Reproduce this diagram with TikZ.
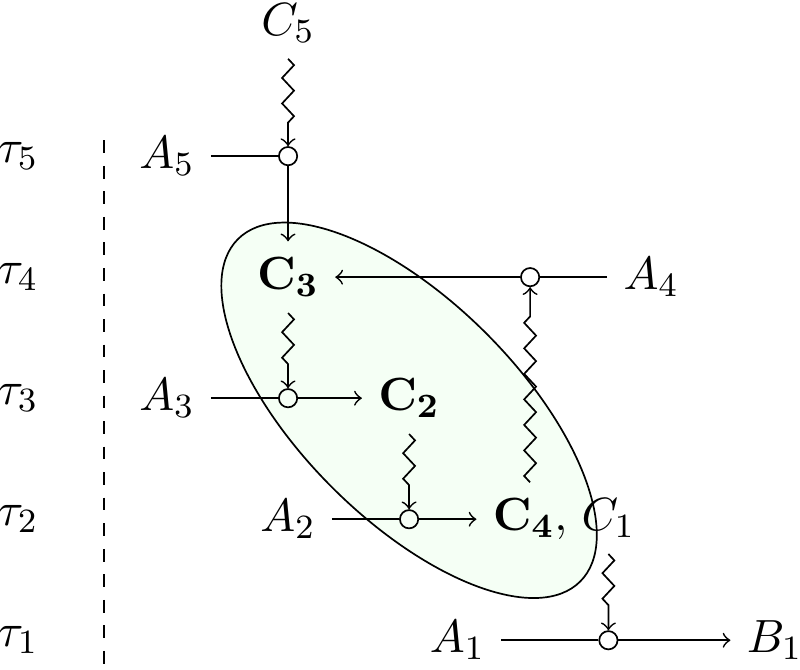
\documentclass[tikz,border=0pt,11pt]{standalone}
\usepackage{amsmath, amssymb}
\usetikzlibrary{decorations.pathmorphing}

\begin{document}
\begin{tikzpicture}[dot/.style={circle, draw, inner sep=0pt, minimum size=4.3pt},
    wavy/.style={->, decorate, decoration={zigzag, amplitude=1.4pt, segment length=6pt, post length=4pt}}]
            \useasboundingbox (-0.38,-0.24) rectangle (6.23,5.29);
            \draw[fill=green!4, rotate around={-45:(3,1.9)}] (3,1.9) ellipse (2cm and 0.9cm);
            \foreach \i in {1,...,5}
                \node (t\i) at (-0.23,\i-1) {$\tau_{\i}$};
            \draw[dashed] (0.48,4.13) -- (0.48,-0.24);
            \node (c5) at (2,5.1) {$C_5$};
            \node (a5) at (1,4) {$A_5$};
            \node (o5) [dot] at (2,4) {};
            \node (c3) at (2,3) {$\mathbf{C_3}$};
            \node (o4) [dot] at (4,3) {};
            \node (a4) at (5,3) {$A_4$};
            \node (a3) at (1,2) {$A_3$};
            \node (o3) [dot] at (2,2) {};
            \node (c2) at (3,2) {$\mathbf{C_2}$};
            \node (a2) at (2,1) {$A_2$};
            \node (o2) [dot] at (3,1) {};
            \node (c4) at (4,1) {$\mathbf{C_4},$};
            \node (c1) [anchor=base west, inner xsep=0pt] at ([xshift=-0.7pt]c4.base east) {$C_1$};
            \node (a1) at (3.4,0) {$A_1$};
            \node (o1) [dot] at (c1 |- a1) {};
            \node (b1) at (6.02,0) {$B_1$};
            \draw (a5)--(o5);
            \draw[wavy] (c5)--(o5);
            \draw[->] (o5)--(c3);
            \draw (a4)--(o4);
            \draw[->] (o4)--(c3);
            \draw[wavy] (c4)--(o4);
            \draw[wavy] (c3)--(o3);
            \draw (a3)--(o3);
            \draw[->] (o3)--(c2);
            \draw[wavy] (c2)--(o2);
            \draw (a2)--(o2);
            \draw[->] (o2)--(c4);
            \draw[wavy] (c1)--(o1);
            \draw (a1)--(o1);
            \draw[->] (o1)--(b1);
        \end{tikzpicture}
\end{document}
